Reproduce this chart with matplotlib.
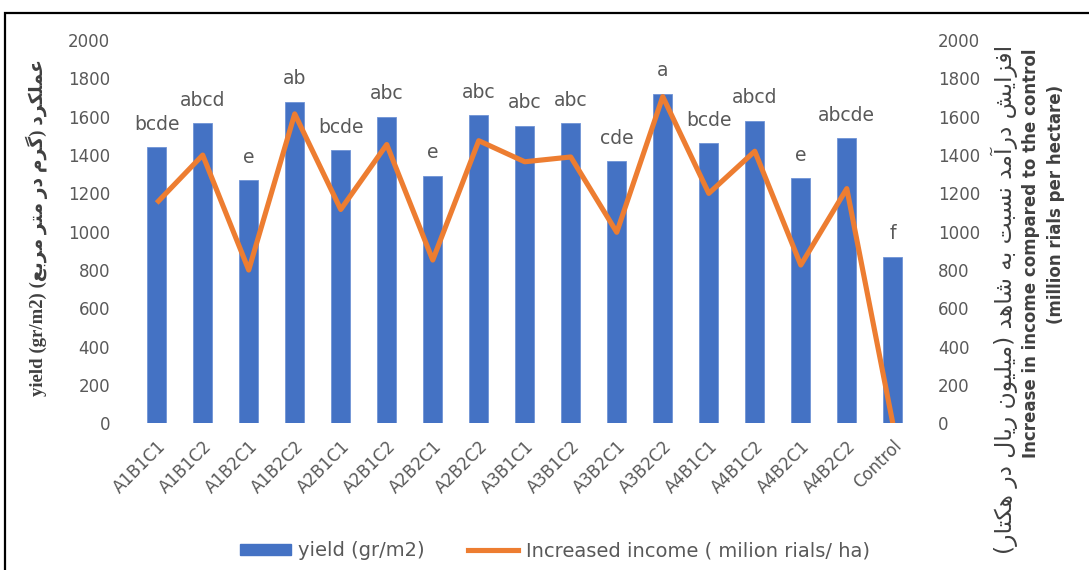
import matplotlib
matplotlib.use("Agg")
import matplotlib.pyplot as plt
from matplotlib.patches import Rectangle, Patch
from matplotlib.lines import Line2D
from matplotlib.transforms import ScaledTranslation

categories = ["A1B1C1", "A1B1C2", "A1B2C1", "A1B2C2", "A2B1C1", "A2B1C2", "A2B2C1",
              "A2B2C2", "A3B1C1", "A3B1C2", "A3B2C1", "A3B2C2", "A4B1C1", "A4B1C2",
              "A4B2C1", "A4B2C2", "Control"]
yield_vals = [1440, 1566, 1268, 1678, 1426, 1600, 1292, 1609, 1553, 1567, 1367, 1720,
              1461, 1579, 1279, 1487, 870]
income_vals = [1150, 1400, 800, 1615, 1116, 1455, 852, 1475, 1365, 1390, 997, 1705,
               1200, 1420, 826, 1225, 0]
letters = ["bcde", "abcd", "e", "ab", "bcde", "abc", "e", "abc", "abc", "abc", "cde", "a",
           "bcde", "abcd", "e", "abcde", "f"]
yticks = [0, 200, 400, 600, 800, 1000, 1200, 1400, 1600, 1800, 2000]

left_fa = "عملکرد (گرم در متر مربع)"
right_fa = "افزایش درآمد نسبت به شاهد (میلیون ریال در هکتار)"

# --- minimal Arabic/Persian shaping (presentation forms) + RTL ordering ---
FORMS = {
    '\u0627': ('\uFE8D', '\uFE8E', None, None),
    '\u0622': ('\uFE81', '\uFE82', None, None),
    '\u0628': ('\uFE8F', '\uFE90', '\uFE91', '\uFE92'),
    '\u062A': ('\uFE95', '\uFE96', '\uFE97', '\uFE98'),
    '\u062F': ('\uFEA9', '\uFEAA', None, None),
    '\u0631': ('\uFEAD', '\uFEAE', None, None),
    '\u0632': ('\uFEAF', '\uFEB0', None, None),
    '\u0633': ('\uFEB1', '\uFEB2', '\uFEB3', '\uFEB4'),
    '\u0634': ('\uFEB5', '\uFEB6', '\uFEB7', '\uFEB8'),
    '\u0639': ('\uFEC9', '\uFECA', '\uFECB', '\uFECC'),
    '\u0641': ('\uFED1', '\uFED2', '\uFED3', '\uFED4'),
    '\u0644': ('\uFEDD', '\uFEDE', '\uFEDF', '\uFEE0'),
    '\u0645': ('\uFEE1', '\uFEE2', '\uFEE3', '\uFEE4'),
    '\u0646': ('\uFEE5', '\uFEE6', '\uFEE7', '\uFEE8'),
    '\u0647': ('\uFEE9', '\uFEEA', '\uFEEB', '\uFEEC'),
    '\u0648': ('\uFEED', '\uFEEE', None, None),
    '\u06A9': ('\uFB8E', '\uFB8F', '\uFB90', '\uFB91'),
    '\u06AF': ('\uFB92', '\uFB93', '\uFB94', '\uFB95'),
    '\u06CC': ('\uFBFC', '\uFBFD', '\uFBFE', '\uFBFF'),
}


def rtl(s):
    out = []
    for i, ch in enumerate(s):
        if ch not in FORMS:
            out.append(ch)
            continue
        prev = s[i - 1] if i > 0 else None
        nxt = s[i + 1] if i + 1 < len(s) else None
        jp = prev in FORMS and FORMS[prev][2] is not None
        jn = FORMS[ch][2] is not None and nxt in FORMS
        iso, fin, ini, med = FORMS[ch]
        out.append(med if (jp and jn) else fin if jp else ini if jn else iso)
    vis = "".join(reversed(out))
    return vis.translate(str.maketrans("()", ")("))


W, H = 1089, 570
fig = plt.figure(figsize=(W / 100, H / 100), dpi=100)
fig.patch.set_facecolor("white")

ax = fig.add_axes([133.7 / W, 1 - 423.3 / H, (915.8 - 133.7) / W, (423.3 - 40.1) / H])
ax2 = ax.twinx()

gray = "#595959"
x = list(range(len(categories)))
ax.bar(x, yield_vals, width=0.41, color="#4472C4", edgecolor="#6f93d6", linewidth=0.6,
       zorder=2)
ax2.plot(x, income_vals, color="#ED7D31", linewidth=3.7, solid_joinstyle="round",
         solid_capstyle="butt", zorder=3)

for xi, v, lab in zip(x, yield_vals, letters):
    ax.annotate(lab, (xi, v), xytext=(0, 12.5), textcoords="offset points",
                ha="center", va="baseline", fontsize=13.5, color=gray,
                family="DejaVu Sans", zorder=4)

for a in (ax, ax2):
    a.set_ylim(0, 2000)
    a.set_yticks(yticks)
    for s in a.spines.values():
        s.set_visible(False)
ax.set_xlim(-0.5, len(categories) - 0.5)
ax.set_xticks(x)
ax.set_xticklabels(categories, rotation=45, ha="right", rotation_mode="anchor",
                   fontsize=12, color=gray, family="DejaVu Sans")
shift = ScaledTranslation(-8 / 72, -2 / 72, fig.dpi_scale_trans)
for lbl in ax.get_xticklabels():
    lbl.set_transform(lbl.get_transform() + shift)
ax.tick_params(axis="x", length=0, pad=10)
ax.tick_params(axis="y", length=0, pad=17, labelsize=12, labelcolor=gray)
ax2.tick_params(axis="y", length=0, pad=16, labelsize=12, labelcolor=gray)
ax2.set_zorder(ax.get_zorder() + 1)
ax2.patch.set_visible(False)

# Left axis title
fig.text(37 / W, 1 - 227 / H, "yield (gr/m2) " + rtl(left_fa), rotation=90,
         ha="center", va="center", fontsize=13.5, fontweight="bold", color="#404040",
         family=["Liberation Serif", "DejaVu Sans"])

# Right axis titles
fig.text(1004 / W, 1 - 45 / H, rtl(right_fa), rotation=90, ha="center", va="top",
         fontsize=16.8, color="#404040", family="DejaVu Sans")
fig.text(1031 / W, 1 - 253 / H, "Increase in income compared to the control",
         rotation=90, ha="center", va="center", fontsize=12, fontweight="bold",
         color="#404040", family="DejaVu Sans")
fig.text(1056 / W, 1 - 204 / H, "(million rials per hectare)", rotation=90,
         ha="center", va="center", fontsize=12, fontweight="bold",
         color="#404040", family="DejaVu Sans")

# Legend
handles = [Patch(facecolor="#4472C4", edgecolor="#4472C4"),
           Line2D([0], [0], color="#ED7D31", linewidth=3.7)]
fig.legend(handles, ["yield (gr/m2)", "Increased income ( milion rials/ ha)"],
           loc="center", bbox_to_anchor=(555 / W, 1 - 551 / H), ncol=2, frameon=False,
           labelcolor=gray, handlelength=2.6, handleheight=0.55,
           handletextpad=0.4, columnspacing=2.2, prop={"family": "DejaVu Sans", "size": 14})

# Outer frame (cropped at right and bottom)
fig.add_artist(Rectangle((4.5 / W, -0.2), 1.5, 1 - 12.8 / H + 0.2,
                         transform=fig.transFigure, fill=False, edgecolor="black",
                         linewidth=1.6, clip_on=False))

fig.savefig("out.png", dpi=100)
